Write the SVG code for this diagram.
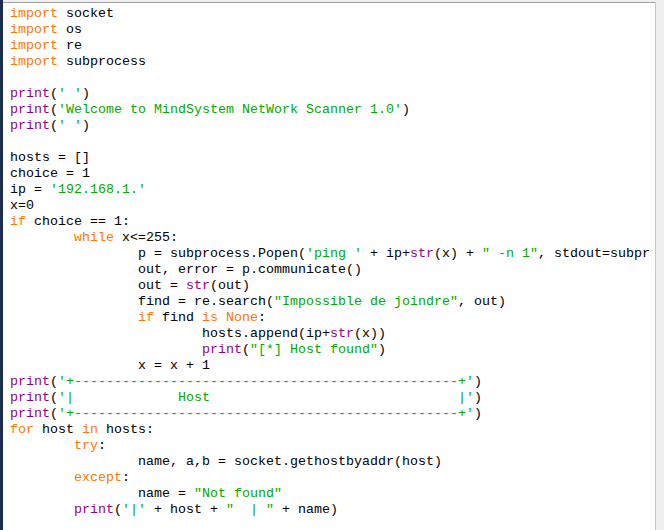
<svg xmlns="http://www.w3.org/2000/svg" width="664" height="530" viewBox="0 0 664 530">
<style>
text{font-family:"Liberation Mono","Courier New",monospace;font-size:13.33px;white-space:pre;fill:#000}
.k{fill:#ff7700}.b{fill:#900090}.s{fill:#00aa00}
</style>
<rect width="664" height="530" fill="#ffffff"/>
<rect x="0" y="0" width="3" height="530" fill="#1d2d4d"/>
<rect x="3" y="0" width="653" height="3" fill="#f0f0f0"/>
<line x1="3" y1="2.5" x2="656" y2="2.5" stroke="#a0a0a0"/>
<line x1="655.5" y1="2" x2="655.5" y2="530" stroke="#c8c8c8"/>
<rect x="656" y="0" width="8" height="530" fill="#f0f0f0"/>
<g id="code" xml:space="preserve">
<text x="10" y="17"><tspan class="k">import</tspan> socket</text>
<text x="10" y="33"><tspan class="k">import</tspan> os</text>
<text x="10" y="49"><tspan class="k">import</tspan> re</text>
<text x="10" y="65"><tspan class="k">import</tspan> subprocess</text>
<text x="10" y="97"><tspan class="b">print</tspan>(<tspan class="s">' '</tspan>)</text>
<text x="10" y="113"><tspan class="b">print</tspan>(<tspan class="s">'Welcome to MindSystem NetWork Scanner 1.0'</tspan>)</text>
<text x="10" y="129"><tspan class="b">print</tspan>(<tspan class="s">' '</tspan>)</text>
<text x="10" y="161">hosts = []</text>
<text x="10" y="177">choice = 1</text>
<text x="10" y="193">ip = <tspan class="s">'192.168.1.'</tspan></text>
<text x="10" y="209">x=0</text>
<text x="10" y="225"><tspan class="k">if</tspan> choice == 1:</text>
<text x="74" y="241"><tspan class="k">while</tspan> x&lt;=255:</text>
<text x="138" y="257">p = subprocess.Popen(<tspan class="s">'ping '</tspan> + ip+<tspan class="b">str</tspan>(x) + <tspan class="s">" -n 1"</tspan>, stdout=subpr</text>
<text x="138" y="273">out, error = p.communicate()</text>
<text x="138" y="289">out = <tspan class="b">str</tspan>(out)</text>
<text x="138" y="305">find = re.search(<tspan class="s">"Impossible de joindre"</tspan>, out)</text>
<text x="138" y="321"><tspan class="k">if</tspan> find <tspan class="k">is</tspan> <tspan class="k">None</tspan>:</text>
<text x="202" y="337">hosts.append(ip+<tspan class="b">str</tspan>(x))</text>
<text x="202" y="353"><tspan class="b">print</tspan>(<tspan class="s">"[*] Host found"</tspan>)</text>
<text x="138" y="369">x = x + 1</text>
<text x="10" y="385"><tspan class="b">print</tspan>(<tspan class="s">'+------------------------------------------------+'</tspan>)</text>
<text x="10" y="401"><tspan class="b">print</tspan>(<tspan class="s">'|             Host                               |'</tspan>)</text>
<text x="10" y="417"><tspan class="b">print</tspan>(<tspan class="s">'+------------------------------------------------+'</tspan>)</text>
<text x="10" y="433"><tspan class="k">for</tspan> host <tspan class="k">in</tspan> hosts:</text>
<text x="74" y="449"><tspan class="k">try</tspan>:</text>
<text x="138" y="465">name, a,b = socket.gethostbyaddr(host)</text>
<text x="74" y="481"><tspan class="k">except</tspan>:</text>
<text x="138" y="497">name = <tspan class="s">"Not found"</tspan></text>
<text x="74" y="513"><tspan class="b">print</tspan>(<tspan class="s">'|'</tspan> + host + <tspan class="s">"  | "</tspan> + name)</text>
</g>
</svg>
